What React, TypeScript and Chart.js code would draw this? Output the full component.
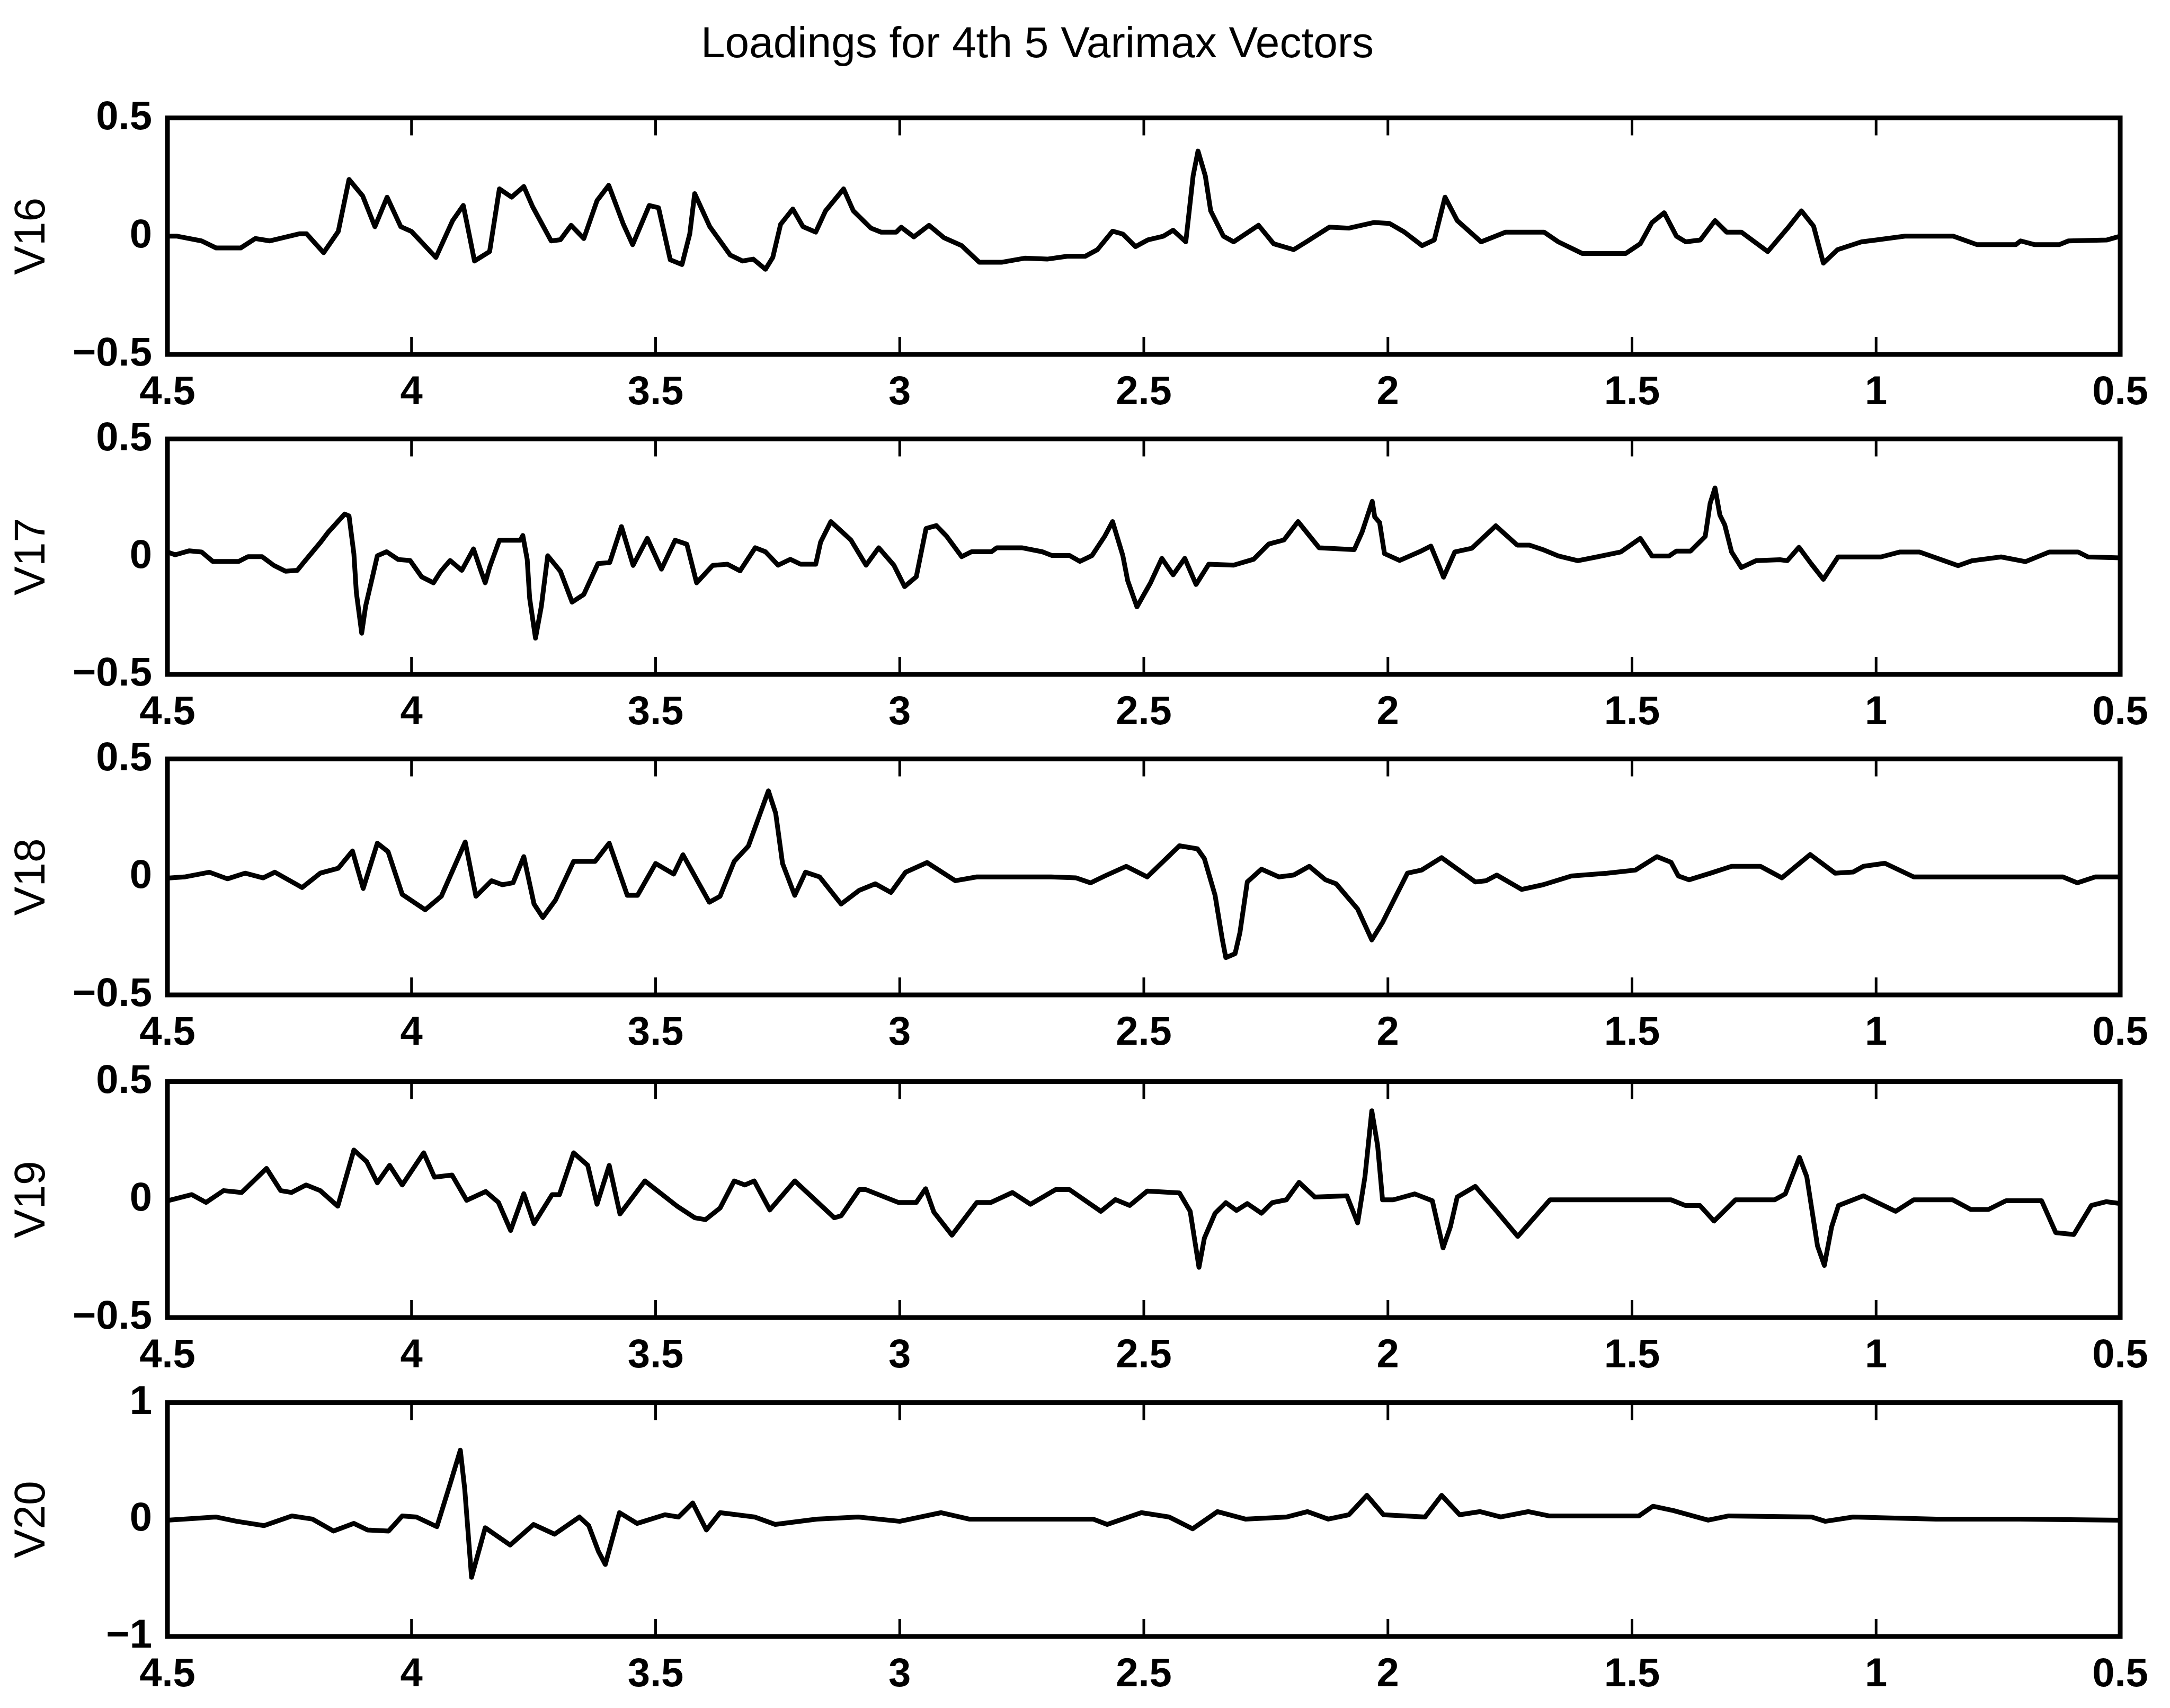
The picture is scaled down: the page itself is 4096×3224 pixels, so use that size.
import React, { useEffect, useRef } from 'react';
import { Chart, registerables } from 'chart.js';

Chart.register(...registerables);

const TITLE = 'Loadings for 4th 5 Varimax Vectors';
const X_TICKS = [4.5, 4, 3.5, 3, 2.5, 2, 1.5, 1, 0.5];

// [x, loading] pairs for each varimax vector
const V16: [number, number][] = [
  [4.5, 0.0], [4.48, 0.0], [4.43, -0.02], [4.4, -0.05], [4.35, -0.05], [4.32, -0.01], [4.29, -0.02], [4.23, 0.01], [4.215, 0.01],
  [4.18, -0.07], [4.15, 0.02], [4.128, 0.24], [4.1, 0.17], [4.075, 0.04], [4.05, 0.165], [4.022, 0.04], [4.0, 0.02], [3.95, -0.09],
  [3.916, 0.065], [3.894, 0.13], [3.887, 0.06], [3.871, -0.105], [3.84, -0.065], [3.82, 0.2], [3.795, 0.165], [3.77, 0.21],
  [3.752, 0.125], [3.714, -0.02], [3.695, -0.015], [3.673, 0.046], [3.647, -0.01], [3.62, 0.15], [3.596, 0.215], [3.566, 0.05],
  [3.547, -0.036], [3.513, 0.13], [3.494, 0.12], [3.47, -0.1], [3.446, -0.12], [3.43, 0.01], [3.42, 0.18], [3.389, 0.04],
  [3.347, -0.08], [3.322, -0.105], [3.3, -0.097], [3.275, -0.14], [3.26, -0.09], [3.244, 0.05], [3.219, 0.115], [3.198, 0.04],
  [3.172, 0.017], [3.152, 0.107], [3.115, 0.2], [3.095, 0.107], [3.059, 0.034], [3.038, 0.017], [3.007, 0.017], [2.997, 0.038],
  [2.971, -0.003], [2.94, 0.046], [2.909, -0.007], [2.873, -0.04], [2.837, -0.11], [2.79, -0.11], [2.744, -0.093], [2.698, -0.097],
  [2.657, -0.085], [2.62, -0.085], [2.595, -0.057], [2.564, 0.021], [2.543, 0.009], [2.517, -0.044], [2.492, -0.016], [2.46, 0.0],
  [2.44, 0.025], [2.414, -0.024], [2.399, 0.255], [2.389, 0.36], [2.374, 0.255], [2.363, 0.107], [2.337, 0.0], [2.316, -0.024],
  [2.265, 0.046], [2.234, -0.032], [2.193, -0.057], [2.167, -0.024], [2.12, 0.038], [2.08, 0.034], [2.028, 0.058], [1.997, 0.054],
  [1.966, 0.017], [1.93, -0.04], [1.905, -0.016], [1.883, 0.165], [1.858, 0.066], [1.809, -0.024], [1.759, 0.017], [1.68, 0.017],
  [1.651, -0.024], [1.602, -0.073], [1.513, -0.073], [1.483, -0.032], [1.459, 0.058], [1.434, 0.099], [1.409, 0.0], [1.39, -0.024],
  [1.36, -0.016], [1.33, 0.066], [1.306, 0.017], [1.276, 0.017], [1.222, -0.065], [1.178, 0.042], [1.153, 0.107], [1.128, 0.042],
  [1.108, -0.114], [1.079, -0.057], [1.03, -0.024], [1.0, -0.016], [0.941, 0.0], [0.842, 0.0], [0.793, -0.036], [0.714, -0.036],
  [0.704, -0.02], [0.675, -0.036], [0.625, -0.036], [0.606, -0.02], [0.527, -0.016], [0.5, 0.0],
];

const V17: [number, number][] = [
  [4.5, 0.02], [4.484, 0.008], [4.455, 0.025], [4.43, 0.02], [4.407, -0.02], [4.354, -0.02], [4.335, 0.0], [4.306, 0.0],
  [4.282, -0.037], [4.258, -0.062], [4.234, -0.058], [4.219, -0.02], [4.186, 0.062], [4.171, 0.103], [4.137, 0.181], [4.128, 0.173],
  [4.118, 0.012], [4.113, -0.152], [4.102, -0.325], [4.094, -0.21], [4.08, -0.086], [4.07, 0.004], [4.051, 0.021], [4.027, -0.012],
  [4.003, -0.016], [3.979, -0.086], [3.955, -0.111], [3.94, -0.062], [3.921, -0.016], [3.897, -0.058], [3.873, 0.033], [3.859, -0.053],
  [3.849, -0.111], [3.84, -0.045], [3.82, 0.07], [3.777, 0.07], [3.772, 0.09], [3.763, -0.012], [3.758, -0.177], [3.746, -0.346],
  [3.734, -0.21], [3.721, 0.004], [3.695, -0.062], [3.671, -0.193], [3.647, -0.16], [3.618, -0.029], [3.594, -0.025], [3.57, 0.128],
  [3.546, -0.037], [3.517, 0.078], [3.488, -0.053], [3.46, 0.07], [3.436, 0.053], [3.416, -0.111], [3.383, -0.037], [3.353, -0.032],
  [3.327, -0.06], [3.296, 0.038], [3.275, 0.021], [3.249, -0.036], [3.224, -0.011], [3.203, -0.032], [3.172, -0.032], [3.162, 0.062],
  [3.141, 0.149], [3.1, 0.071], [3.069, -0.036], [3.043, 0.038], [3.012, -0.036], [2.99, -0.127], [2.966, -0.085], [2.946, 0.12],
  [2.925, 0.132], [2.904, 0.087], [2.873, 0.0], [2.853, 0.021], [2.812, 0.021], [2.801, 0.038], [2.75, 0.038], [2.708, 0.021],
  [2.688, 0.005], [2.652, 0.005], [2.631, -0.02], [2.606, 0.005], [2.58, 0.087], [2.564, 0.149], [2.543, 0.005], [2.533, -0.102],
  [2.514, -0.213], [2.486, -0.11], [2.463, -0.007], [2.44, -0.077], [2.416, -0.007], [2.393, -0.118], [2.367, -0.032], [2.316, -0.036],
  [2.275, -0.011], [2.244, 0.054], [2.213, 0.071], [2.184, 0.149], [2.141, 0.038], [2.069, 0.03], [2.053, 0.104], [2.032, 0.235],
  [2.027, 0.169], [2.017, 0.145], [2.007, 0.013], [1.976, -0.016], [1.935, 0.021], [1.912, 0.045], [1.897, -0.03], [1.886, -0.087],
  [1.863, 0.02], [1.828, 0.036], [1.779, 0.131], [1.735, 0.049], [1.71, 0.049], [1.68, 0.028], [1.651, 0.003], [1.611, -0.017],
  [1.572, -0.001], [1.523, 0.02], [1.483, 0.078], [1.459, 0.003], [1.424, 0.003], [1.409, 0.024], [1.38, 0.024], [1.35, 0.086],
  [1.34, 0.226], [1.33, 0.292], [1.32, 0.177], [1.31, 0.135], [1.296, 0.02], [1.276, -0.046], [1.246, -0.017], [1.197, -0.013],
  [1.182, -0.017], [1.158, 0.04], [1.133, -0.03], [1.108, -0.096], [1.078, -0.001], [0.99, -0.001], [0.951, 0.02], [0.911, 0.02],
  [0.832, -0.038], [0.803, -0.017], [0.744, -0.001], [0.694, -0.021], [0.645, 0.02], [0.586, 0.02], [0.566, -0.001], [0.5, -0.005],
];

const V18: [number, number][] = [
  [4.5, -0.005], [4.465, 0.0], [4.414, 0.02], [4.377, -0.008], [4.341, 0.016], [4.304, -0.004], [4.28, 0.02], [4.224, -0.045],
  [4.187, 0.016], [4.15, 0.037], [4.121, 0.11], [4.099, -0.049], [4.07, 0.143], [4.048, 0.107], [4.019, -0.074], [3.972, -0.139],
  [3.939, -0.082], [3.89, 0.148], [3.868, -0.082], [3.836, -0.016], [3.814, -0.033], [3.792, -0.025], [3.77, 0.086], [3.749, -0.115],
  [3.731, -0.172], [3.705, -0.098], [3.668, 0.066], [3.624, 0.066], [3.595, 0.143], [3.558, -0.078], [3.537, -0.078], [3.5, 0.057],
  [3.463, 0.012], [3.444, 0.094], [3.39, -0.107], [3.368, -0.082], [3.339, 0.066], [3.31, 0.131], [3.269, 0.365], [3.254, 0.27],
  [3.24, 0.057], [3.215, -0.078], [3.193, 0.02], [3.164, 0.0], [3.12, -0.115], [3.083, -0.057], [3.05, -0.029], [3.018, -0.066],
  [2.988, 0.02], [2.944, 0.061], [2.886, -0.016], [2.842, 0.0], [2.69, 0.0], [2.639, -0.004], [2.609, -0.025], [2.58, 0.004],
  [2.536, 0.045], [2.493, 0.0], [2.427, 0.132], [2.39, 0.119], [2.376, 0.078], [2.354, -0.078], [2.339, -0.267], [2.332, -0.342],
  [2.313, -0.325], [2.303, -0.235], [2.288, -0.021], [2.259, 0.033], [2.223, 0.0], [2.193, 0.008], [2.161, 0.045], [2.128, -0.012],
  [2.106, -0.029], [2.062, -0.136], [2.033, -0.267], [2.011, -0.193], [1.96, 0.016], [1.931, 0.029], [1.89, 0.082], [1.821, -0.021],
  [1.799, -0.016], [1.777, 0.008], [1.726, -0.053], [1.682, -0.033], [1.624, 0.004], [1.551, 0.016], [1.493, 0.029], [1.449, 0.086],
  [1.42, 0.062], [1.405, 0.004], [1.383, -0.012], [1.339, 0.016], [1.296, 0.045], [1.237, 0.045], [1.193, -0.004], [1.135, 0.095],
  [1.084, 0.016], [1.047, 0.021], [1.026, 0.045], [0.982, 0.058], [0.923, 0.0], [0.617, 0.0], [0.588, -0.025], [0.551, 0.0], [0.5, 0.0],
];

const V19: [number, number][] = [
  [4.5, -0.005], [4.45, 0.021], [4.421, -0.012], [4.385, 0.038], [4.348, 0.03], [4.297, 0.132], [4.268, 0.038], [4.246, 0.03],
  [4.216, 0.062], [4.187, 0.038], [4.151, -0.028], [4.118, 0.21], [4.092, 0.161], [4.07, 0.071], [4.045, 0.145], [4.019, 0.062],
  [3.975, 0.198], [3.953, 0.095], [3.917, 0.104], [3.887, -0.003], [3.848, 0.034], [3.822, -0.012], [3.797, -0.131], [3.77, 0.025],
  [3.749, -0.102], [3.712, 0.021], [3.697, 0.021], [3.668, 0.198], [3.639, 0.145], [3.62, -0.02], [3.595, 0.145], [3.573, -0.061],
  [3.522, 0.079], [3.456, -0.028], [3.42, -0.077], [3.398, -0.085], [3.368, -0.036], [3.339, 0.079], [3.317, 0.062], [3.298, 0.079],
  [3.266, -0.044], [3.215, 0.079], [3.134, -0.077], [3.12, -0.069], [3.083, 0.042], [3.069, 0.042], [3.003, -0.012], [2.966, -0.012],
  [2.947, 0.046], [2.93, -0.053], [2.893, -0.151], [2.842, -0.012], [2.813, -0.012], [2.769, 0.03], [2.732, -0.02], [2.681, 0.042],
  [2.652, 0.042], [2.588, -0.05], [2.558, 0.0], [2.529, -0.025], [2.493, 0.036], [2.427, 0.028], [2.405, -0.05], [2.387, -0.287],
  [2.376, -0.164], [2.354, -0.058], [2.332, -0.013], [2.31, -0.046], [2.288, -0.017], [2.259, -0.058], [2.237, -0.013], [2.208, -0.001],
  [2.182, 0.073], [2.15, 0.011], [2.084, 0.016], [2.062, -0.099], [2.047, 0.097], [2.033, 0.376], [2.021, 0.228], [2.011, -0.001],
  [1.989, -0.001], [1.945, 0.024], [1.909, -0.005], [1.887, -0.205], [1.872, -0.115], [1.858, 0.011], [1.821, 0.056], [1.777, -0.05],
  [1.734, -0.156], [1.668, -0.001], [1.42, -0.001], [1.391, -0.025], [1.361, -0.025], [1.332, -0.091], [1.288, -0.001], [1.208, -0.001],
  [1.186, 0.024], [1.157, 0.179], [1.142, 0.097], [1.12, -0.197], [1.106, -0.279], [1.091, -0.115], [1.077, -0.025], [1.026, 0.016],
  [0.96, -0.05], [0.923, -0.001], [0.843, -0.001], [0.806, -0.042], [0.77, -0.042], [0.734, -0.005], [0.661, -0.005], [0.632, -0.14],
  [0.595, -0.148], [0.559, -0.025], [0.529, -0.009], [0.5, -0.017],
];

const V20: [number, number][] = [
  [4.5, -0.005], [4.401, 0.022], [4.358, -0.015], [4.302, -0.052], [4.245, 0.031], [4.203, 0.004], [4.16, -0.098], [4.118, -0.033],
  [4.09, -0.089], [4.047, -0.098], [4.019, 0.031], [3.99, 0.022], [3.948, -0.061], [3.92, 0.317], [3.9, 0.594], [3.891, 0.262],
  [3.877, -0.494], [3.849, -0.07], [3.798, -0.218], [3.75, -0.042], [3.707, -0.125], [3.656, 0.022], [3.637, -0.052], [3.617, -0.273],
  [3.603, -0.384], [3.574, 0.059], [3.538, -0.033], [3.481, 0.041], [3.453, 0.022], [3.424, 0.142], [3.396, -0.089], [3.368, 0.059],
  [3.297, 0.022], [3.255, -0.042], [3.17, 0.004], [3.085, 0.022], [3.0, -0.015], [2.915, 0.059], [2.858, 0.004], [2.604, 0.004],
  [2.575, -0.042], [2.505, 0.059], [2.448, 0.022], [2.4, -0.079], [2.349, 0.068], [2.292, 0.004], [2.207, 0.022], [2.165, 0.068],
  [2.122, 0.004], [2.08, 0.041], [2.043, 0.207], [2.009, 0.041], [1.924, 0.022], [1.89, 0.207], [1.853, 0.041], [1.811, 0.068],
  [1.769, 0.022], [1.712, 0.068], [1.67, 0.031], [1.486, 0.031], [1.457, 0.114], [1.415, 0.077], [1.344, -0.005], [1.302, 0.031],
  [1.132, 0.022], [1.104, -0.015], [1.047, 0.022], [0.877, 0.004], [0.707, 0.004], [0.5, -0.005],
];

const PANELS = [
  { name: 'V16', points: V16, limit: 0.5 },
  { name: 'V17', points: V17, limit: 0.5 },
  { name: 'V18', points: V18, limit: 0.5 },
  { name: 'V19', points: V19, limit: 0.5 },
  { name: 'V20', points: V20, limit: 1 },
];

// page geometry
const PAGE_W = 4096;
const PAGE_H = 3224;
const PLOT_LEFT = 316;
const PLOT_RIGHT = 4002;
const PANEL_TOPS = [208, 814, 1418, 2027, 2633];
const PANEL_HEIGHTS = [461, 459, 460, 460, 456];
const PAD_TOP = 60;
const X_AXIS_H = 130;

const FONT = '"Liberation Sans", Arial, Helvetica, sans-serif';
const TICK_LEN = 33;
const TICK_W = 5;
const FRAME_W = 9;
const LINE_W = 9;

// numbers use a true minus sign, as in the printed axes
const fmt = (v: number) => (v < 0 ? '\u2212' + String(-v) : String(v));

// box around each axes plus inward x tick marks, MATLAB style
const framePlugin = {
  id: 'axesFrame',
  afterDatasetsDraw(chart: any) {
    const { ctx, chartArea: a, scales } = chart;
    const xs = scales.x;
    ctx.save();
    ctx.strokeStyle = '#000';
    ctx.lineCap = 'butt';
    ctx.lineWidth = TICK_W;
    ctx.beginPath();
    xs.ticks.forEach((t: any) => {
      if (t.value === xs.min || t.value === xs.max) return;
      const px = xs.getPixelForValue(t.value);
      ctx.moveTo(px, a.top);
      ctx.lineTo(px, a.top + TICK_LEN);
      ctx.moveTo(px, a.bottom);
      ctx.lineTo(px, a.bottom - TICK_LEN);
    });
    ctx.stroke();
    ctx.lineWidth = FRAME_W;
    ctx.lineJoin = 'miter';
    ctx.strokeRect(a.left, a.top, a.right - a.left, a.bottom - a.top);
    ctx.restore();
  },
};

function LoadingPanel({ index }: { index: number }) {
  const ref = useRef<HTMLCanvasElement>(null);
  const panel = PANELS[index];
  const height = PAD_TOP + PANEL_HEIGHTS[index] + X_AXIS_H;

  useEffect(() => {
    const lim = panel.limit;
    const chart = new Chart(ref.current as HTMLCanvasElement, {
      type: 'line',
      data: {
        datasets: [
          {
            data: panel.points.map(([x, y]) => ({ x, y })),
            borderColor: '#000',
            borderWidth: LINE_W,
            pointRadius: 0,
            tension: 0,
            fill: false,
            borderJoinStyle: 'round',
            borderCapStyle: 'round',
          },
        ],
      },
      options: {
        animation: false,
        responsive: false,
        devicePixelRatio: 1,
        events: [],
        layout: { padding: { top: PAD_TOP, right: PAGE_W - PLOT_RIGHT, left: 0, bottom: 0 } },
        plugins: { legend: { display: false }, tooltip: { enabled: false } },
        scales: {
          x: {
            type: 'linear',
            reverse: true,
            min: 0.5,
            max: 4.5,
            afterBuildTicks: (s: any) => {
              s.ticks = X_TICKS.map((v) => ({ value: v }));
            },
            afterFit: (s: any) => {
              s.height = X_AXIS_H;
            },
            grid: { display: false, drawTicks: false },
            border: { display: false },
            ticks: {
              color: '#000',
              padding: 27,
              maxRotation: 0,
              autoSkip: false,
              font: { family: FONT, size: 76, weight: 'bold' },
              callback: (v: any) => fmt(v),
            },
          },
          y: {
            type: 'linear',
            min: -lim,
            max: lim,
            afterBuildTicks: (s: any) => {
              s.ticks = [-lim, 0, lim].map((v) => ({ value: v }));
            },
            afterFit: (s: any) => {
              s.width = PLOT_LEFT;
            },
            grid: { display: false, drawTicks: false },
            border: { display: false },
            ticks: {
              color: '#000',
              padding: 29,
              font: { family: FONT, size: 76, weight: 'bold' },
              callback: (v: any) => fmt(v),
            },
            title: {
              display: true,
              text: panel.name,
              color: '#000',
              font: { family: FONT, size: 82, weight: 'normal', lineHeight: 1.2 },
              padding: { top: 12, bottom: 0 },
            },
          },
        },
      } as any,
      plugins: [framePlugin],
    });
    return () => chart.destroy();
  }, []);

  return (
    <canvas
      ref={ref}
      width={PAGE_W}
      height={height}
      style={{
        position: 'absolute',
        left: 0,
        top: PANEL_TOPS[index] - PAD_TOP,
        width: PAGE_W,
        height,
      }}
    />
  );
}

export default function App() {
  return (
    <div
      style={{
        position: 'fixed',
        left: 0,
        top: 0,
        width: PAGE_W,
        height: PAGE_H,
        background: '#fff',
        overflow: 'hidden',
      }}
    >
      <div
        style={{
          position: 'absolute',
          left: 1958,
          top: 39,
          transform: 'translateX(-50%)',
          whiteSpace: 'nowrap',
          fontFamily: FONT,
          fontSize: 82,
          lineHeight: 1,
          color: '#000',
        }}
      >
        {TITLE}
      </div>
      {PANELS.map((p, i) => (
        <LoadingPanel key={p.name} index={i} />
      ))}
    </div>
  );
}
